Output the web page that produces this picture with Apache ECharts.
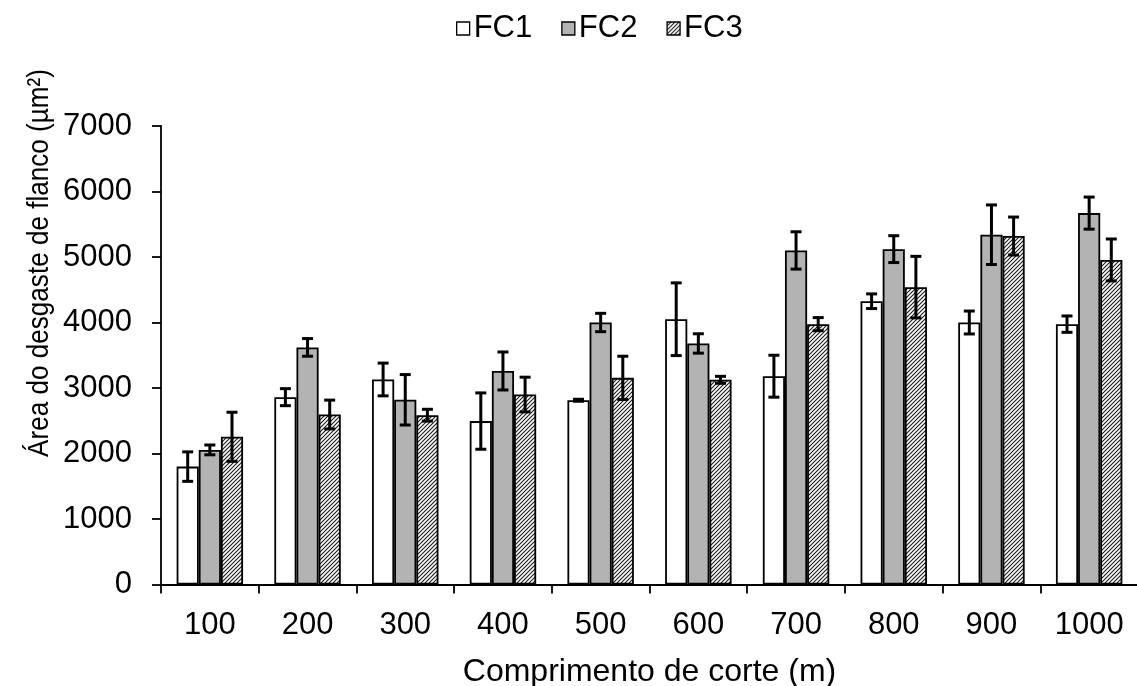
<!DOCTYPE html>
<html>
<head>
<meta charset="utf-8">
<style>
  html, body { margin: 0; padding: 0; background: #fff; overflow: hidden; }
  #chart { width: 1137px; height: 686px; }
</style>
<script src="https://cdn.jsdelivr.net/npm/echarts@6/dist/echarts.min.js"></script>
</head>
<body>
<div id="chart"></div>
<script>
// Cutting length categories (m)
const categories = ['100', '200', '300', '400', '500', '600', '700', '800', '900', '1000'];

// Mean flank wear area (µm²) per tool condition
const fc1 = [1800, 2860, 3130, 2495, 2813, 4050, 3180, 4325, 4000, 3975];
const fc2 = [2055, 3620, 2820, 3260, 4000, 3680, 5100, 5120, 5340, 5670];
const fc3 = [2255, 2595, 2585, 2900, 3155, 3125, 3975, 4540, 5320, 4955];

// Standard deviations shown as error bars
const fc1Err = [225, 130, 250, 430, 15, 555, 320, 112, 175, 125];
const fc2Err = [75, 135, 385, 290, 140, 148, 285, 205, 455, 245];
const fc3Err = [375, 220, 90, 265, 330, 53, 100, 470, 290, 320];

const yTicks = { min: 0, max: 7000, interval: 1000 };

const FONT = '"Liberation Sans", Arial, sans-serif';
const TICK_SIZE = 31;
const TITLE_SIZE = 32;
const CAT_GAP = 0.32;
const N_SERIES = 3;

// Diagonal hatch tile for the third series
function hatchPattern() {
  const s = 4;
  const c = document.createElement('canvas');
  c.width = s; c.height = s;
  const g = c.getContext('2d');
  g.fillStyle = '#fff';
  g.fillRect(0, 0, s, s);
  g.strokeStyle = '#1a1a1a';
  g.lineWidth = 1.1;
  g.beginPath();
  g.moveTo(0, s); g.lineTo(s, 0);
  g.moveTo(-1, 1); g.lineTo(1, -1);
  g.moveTo(s - 1, s + 1); g.lineTo(s + 1, s - 1);
  g.stroke();
  return { image: c, repeat: 'repeat' };
}

function barSeries(name, values, fill) {
  return {
    name: name,
    type: 'bar',
    data: values,
    barGap: '0%',
    barCategoryGap: (CAT_GAP * 100) + '%',
    itemStyle: { color: fill, borderColor: '#000', borderWidth: 1.8 },
    emphasis: { disabled: true },
    z: 2
  };
}

// Error bar drawn over the bar at position `slot` inside its category group
function errorSeries(name, values, errs, slot) {
  const data = values.map((v, i) => [i, v - errs[i], v + errs[i]]);
  return {
    name: name,
    type: 'custom',
    data: data,
    encode: { x: 0, y: [1, 2] },
    z: 5,
    silent: true,
    renderItem: function (params, api) {
      const idx = api.value(0);
      const lo = api.coord([idx, api.value(1)]);
      const hi = api.coord([idx, api.value(2)]);
      const band = api.size([1, 0])[0];
      const bw = band * (1 - CAT_GAP) / N_SERIES;
      const x = lo[0] - (bw * N_SERIES) / 2 + bw * (slot + 0.5);
      const cap = 5.5;
      const style = { stroke: '#000', lineWidth: 3 };
      return {
        type: 'group',
        children: [
          { type: 'line', shape: { x1: x, y1: lo[1], x2: x, y2: hi[1] }, style: style },
          { type: 'line', shape: { x1: x - cap, y1: lo[1], x2: x + cap, y2: lo[1] }, style: style },
          { type: 'line', shape: { x1: x - cap, y1: hi[1], x2: x + cap, y2: hi[1] }, style: style }
        ]
      };
    }
  };
}

const chart = echarts.init(document.getElementById('chart'), null, { renderer: 'canvas', width: 1137, height: 686 });

chart.setOption({
  animation: false,
  backgroundColor: '#fff',
  textStyle: { fontFamily: FONT, color: '#000' },
  legend: {
    data: ['FC1', 'FC2', 'FC3'],
    left: 451,
    top: 8,
    icon: 'rect',
    itemWidth: 13,
    itemHeight: 13,
    itemGap: 29,
    itemStyle: { borderColor: '#000', borderWidth: 1.3 },
    textStyle: { fontFamily: FONT, fontSize: TICK_SIZE, color: '#000', padding: [0, 0, 0, -1] },
    selectedMode: false
  },
  grid: {
    left: 161, width: 977, top: 126, height: 458.5,
    containLabel: false,
    outerBoundsMode: 'none'
  },
  xAxis: {
    type: 'category',
    data: categories,
    name: 'Comprimento de corte (m)',
    nameLocation: 'middle',
    nameGap: 72,
    nameTextStyle: { fontFamily: FONT, fontSize: TITLE_SIZE, color: '#000' },
    axisLine: { lineStyle: { color: '#000', width: 1.8 } },
    axisTick: { show: true, length: 9, inside: false, lineStyle: { color: '#000', width: 1.8 } },
    axisLabel: { fontFamily: FONT, fontSize: TICK_SIZE, color: '#000', margin: 25 },
    splitLine: { show: false }
  },
  yAxis: {
    type: 'value',
    min: yTicks.min,
    max: yTicks.max,
    interval: yTicks.interval,
    axisLine: { show: true, lineStyle: { color: '#000', width: 1.8 } },
    axisTick: { show: true, length: 9, lineStyle: { color: '#000', width: 1.8 } },
    axisLabel: {
      fontFamily: FONT, fontSize: TICK_SIZE, color: '#000', margin: 29,
      formatter: function (v) { return String(v); }
    },
    splitLine: { show: false }
  },
  graphic: [{
    type: 'text',
    x: 40,
    y: 263,
    rotation: Math.PI / 2,
    scaleX: 0.87,
    style: {
      text: 'Área do desgaste de flanco (µm²)',
      font: '30px ' + FONT,
      fill: '#000',
      align: 'center',
      verticalAlign: 'middle'
    }
  }],
  series: [
    barSeries('FC1', fc1, '#ffffff'),
    barSeries('FC2', fc2, '#b3b3b3'),
    barSeries('FC3', fc3, hatchPattern()),
    errorSeries('FC1 desvio', fc1, fc1Err, 0),
    errorSeries('FC2 desvio', fc2, fc2Err, 1),
    errorSeries('FC3 desvio', fc3, fc3Err, 2)
  ]
});
</script>
</body>
</html>
